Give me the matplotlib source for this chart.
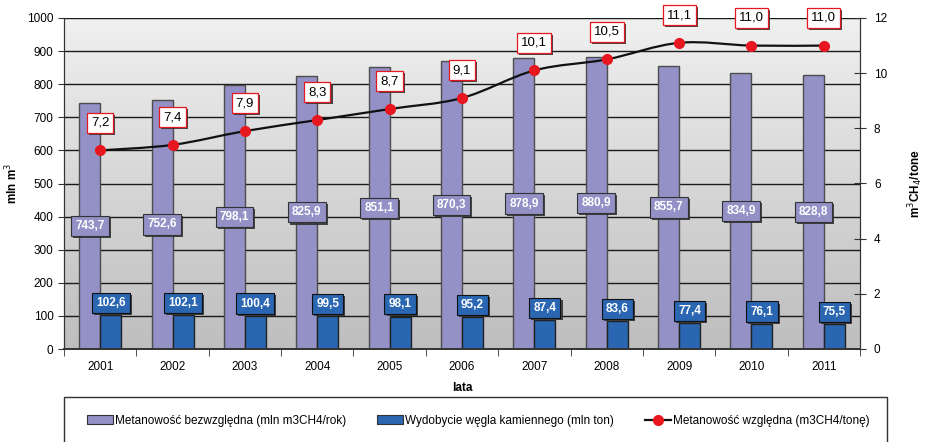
import numpy as np
import matplotlib
matplotlib.use("Agg")
import matplotlib.pyplot as plt
from matplotlib.path import Path
from matplotlib.patches import PathPatch, Rectangle, Patch
from matplotlib.lines import Line2D
from matplotlib.colors import LinearSegmentedColormap
import matplotlib.patheffects as pe

plt.rcParams['font.family'] = ['Liberation Sans', 'DejaVu Sans']

years = ['2001', '2002', '2003', '2004', '2005', '2006', '2007', '2008', '2009', '2010', '2011']
metan_abs = [743.7, 752.6, 798.1, 825.9, 851.1, 870.3, 878.9, 880.9, 855.7, 834.9, 828.8]
wydobycie = [102.6, 102.1, 100.4, 99.5, 98.1, 95.2, 87.4, 83.6, 77.4, 76.1, 75.5]
metan_wzgl = [7.2, 7.4, 7.9, 8.3, 8.7, 9.1, 10.1, 10.5, 11.1, 11.0, 11.0]

def fmt(v):
    return f"{v:.1f}".replace('.', ',')

purple = '#9391c6'
blue = '#2a66b1'
red = '#e8161f'

W, H = 927, 442
fig = plt.figure(figsize=(W/100, H/100), dpi=100)
ax = fig.add_axes([64/W, 1-349/H, (860-64)/W, (349-18)/H])
ax2 = ax.twinx()

x = np.arange(len(years))
bw = 0.29

# gradient background
grad = np.linspace(0, 1, 256).reshape(-1, 1)
cm = LinearSegmentedColormap.from_list('g', ['#bebebe', '#f0f0f0'])
ax.imshow(grad, cmap=cm, aspect='auto', extent=[-0.5, len(years)-0.5, 0, 1000],
          origin='lower', zorder=0)

ax.set_xlim(-0.5, len(years)-0.5)
ax.set_ylim(0, 1000)
ax.set_yticks(np.arange(0, 1001, 100))
for yv in np.arange(100, 1001, 100):
    ax.axhline(yv, color='#1a1a1a', linewidth=1.0, zorder=1)

ax.bar(x - bw/2, metan_abs, width=bw, color=purple, edgecolor='#4d4d4d', linewidth=1.0, zorder=2)
ax.bar(x + bw/2, wydobycie, width=bw, color=blue, edgecolor='#222222', linewidth=1.0, zorder=2)

shadow = [pe.withSimplePatchShadow(offset=(1.5, -1.5), shadow_rgbFace='#333333', alpha=0.9)]

for i, v in enumerate(metan_abs):
    t = ax.text(x[i] - bw/2, v/2, fmt(v), ha='center', va='center', color='white',
                fontsize=8.5, fontweight='bold', zorder=5,
                bbox=dict(boxstyle='square,pad=0.35', fc=purple, ec='#333333', lw=0.8))
    t.get_bbox_patch().set_path_effects(shadow)
for i, v in enumerate(wydobycie):
    t = ax.text(x[i] + bw/2, v + 37, fmt(v), ha='center', va='center', color='white',
                fontsize=8.5, fontweight='bold', zorder=5,
                bbox=dict(boxstyle='square,pad=0.35', fc=blue, ec='#111111', lw=0.8))
    t.get_bbox_patch().set_path_effects(shadow)

# right axis: smooth line
ax2.set_ylim(0, 12)
ax2.set_yticks(np.arange(0, 13, 2))
pts = np.column_stack([x, metan_wzgl]).astype(float)
P = np.vstack([pts[0], pts, pts[-1]])
verts = [tuple(pts[0])]
codes = [Path.MOVETO]
for k in range(1, len(P) - 2):
    p0, p1, p2, p3 = P[k-1], P[k], P[k+1], P[k+2]
    c1 = p1 + (p2 - p0) / 6
    c2 = p2 - (p3 - p1) / 6
    verts += [tuple(c1), tuple(c2), tuple(p2)]
    codes += [Path.CURVE4] * 3
ax2.add_patch(PathPatch(Path(verts, codes), fc='none', ec='#111111', lw=1.6, zorder=3))
ax2.plot(x, metan_wzgl, 'o', color=red, markersize=7, zorder=4, linestyle='none')
for i, v in enumerate(metan_wzgl):
    t = ax2.annotate(fmt(v), (x[i], v), xytext=(0, 20), textcoords='offset points',
                     ha='center', va='center', fontsize=9.5, color='black', zorder=6,
                     bbox=dict(boxstyle='square,pad=0.3', fc='white', ec=red, lw=0.9))
    t.get_bbox_patch().set_path_effects(shadow)

# axes styling
ax.set_xticks(x)
ax.set_xticklabels(years, fontsize=8.5)
ax.set_xticks(np.arange(-0.5, len(years)), minor=True)
ax.tick_params(axis='x', which='major', length=0, pad=9)
ax.tick_params(axis='x', which='minor', length=5, direction='out', color='#333333')
ax.tick_params(axis='y', labelsize=8.5, length=4, direction='out', color='#333333')
ax2.tick_params(axis='y', labelsize=8.5, length=8, direction='inout', color='#333333', pad=6)
for a in (ax, ax2):
    a.spines['top'].set_visible(False)
    a.spines['left'].set_color('#333333')
    a.spines['right'].set_color('#333333')
    a.spines['bottom'].set_color('#333333')
    a.spines['bottom'].set_linewidth(1.2)

ax.set_ylabel('mln m$^3$', fontsize=8.5, fontweight='bold', labelpad=5)
ax2.set_ylabel('m$^3$CH$_4$/tone', fontsize=8.5, fontweight='bold', labelpad=14)
ax.set_xlabel('lata', fontsize=8.5, fontweight='bold', labelpad=6)

# legend box
fig.patches.append(Rectangle((64/W, -0.05), (887-64)/W, 1-397/H + 0.05, transform=fig.transFigure,
                             fc='white', ec='#333333', lw=1.0, figure=fig))
handles = [Patch(fc=purple, ec='#333333', lw=0.8),
           Patch(fc=blue, ec='#333333', lw=0.8),
           Line2D([], [], color='#111111', lw=1.6, marker='o', markerfacecolor=red,
                  markeredgecolor=red, markersize=7)]
labels = ['Metanowość bezwzględna (mln m3CH4/rok)',
          'Wydobycie węgla kamiennego (mln ton)',
          'Metanowość względna (m3CH4/tonę)']
fig.legend(handles, labels, loc='center left', bbox_to_anchor=(76/W, 1-421/H), ncol=3,
           frameon=False, fontsize=8.5, handlelength=2.2, handletextpad=0.2,
           columnspacing=2.6, handleheight=0.8)

fig.savefig('out.png', dpi=100)
